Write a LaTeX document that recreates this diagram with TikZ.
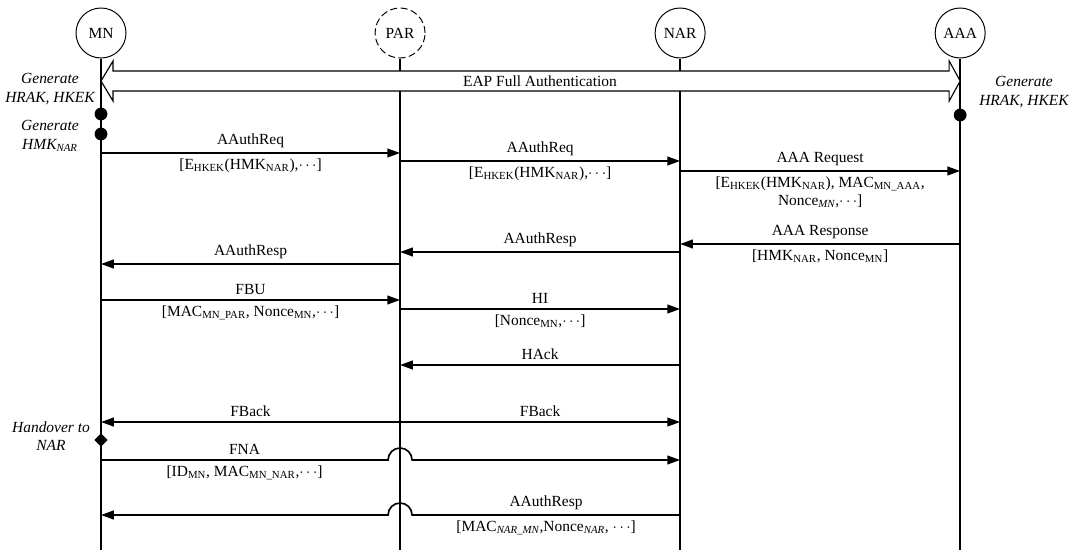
\documentclass[tikz,border=0pt]{standalone}
\usepackage{fontspec}
\setmainfont{Liberation Serif}
\usetikzlibrary{arrows.meta,positioning,calc,shapes.geometric}

\begin{document}
\begin{tikzpicture}[x=0.025cm,y=-0.025cm,>={Triangle[length=0.32cm,width=0.22cm]},
	font=\fontsize{11}{13}\selectfont]
	\tikzstyle{entity}=[circle,draw,line width=0.7pt,minimum size=1.25cm,inner sep=0pt]
	\tikzstyle{lifeline}=[line width=1.1pt]
	\tikzstyle{msg}=[->,line width=1.2pt]
	\tikzstyle{dot}=[circle,fill,inner sep=0pt,minimum size=0.32cm]
	\tikzstyle{note}=[align=center,font=\fontsize{11}{13}\selectfont\itshape]
	
	\useasboundingbox (0,0) rectangle (1078,553);
	
	\node[entity] (mn) at (101,33) {MN};
	\node[entity,dash pattern=on 5pt off 2.5pt] (par) [right=6.2cm of mn] {PAR};
	\node[entity] (nar) [right=5.725cm of par] {NAR};
	\node[entity] (aaa) [right=5.725cm of nar] {AAA};
	
	\coordinate (end) at (0,550);
	\foreach \n in {mn,par,nar,aaa}
		\draw[lifeline] (\n) -- (\n |- end);
	
	% EAP full authentication
	\coordinate (eapL) at (mn |- 0,81);
	\coordinate (eapR) at (aaa |- 0,81);
	\draw[line width=0.8pt,fill=white] (eapL) -- ++(12,-20) -- ++(0,10)
		-- ($(eapR)+(-11,-10)$) -- ++(0,-10) -- (eapR) -- ++(-11,20) -- ++(0,-10)
		-- ($(eapL)+(12,10)$) -- ++(0,10) -- cycle;
	\node (eap) at (540,81) {EAP Full Authentication};
	
	\node[dot] (d1) at (mn |- 0,114) {};
	\node[dot] (d2) at (mn |- 0,134) {};
	\node[dot] (d3) at (aaa |- 0,115) {};
	\node[note] (g1) at (50,89) {Generate\\HRAK, HKEK};
	\node[note] (g2) at (50,136) {Generate\\HMK\textsubscript{NAR}};
	\node[note] (g3) at (1024,92) {Generate\\HRAK, HKEK};
	
	\path[msg]
	(mn |- 0,153) edge node[above] {AAuthReq}
		node[below] {[E\textsubscript{HKEK}(HMK\textsubscript{NAR}),$\cdots$]} (par |- 0,153)
	(par |- 0,161) edge node[above] {AAuthReq}
		node[below] {[E\textsubscript{HKEK}(HMK\textsubscript{NAR}),$\cdots$]} (nar |- 0,161)
	(nar |- 0,171) edge node[above] {AAA Request}
		node[below,align=center] {[E\textsubscript{HKEK}(HMK\textsubscript{NAR}), MAC\textsubscript{MN\_AAA},\\Nonce\textsubscript{\itshape MN},$\cdots$]} (aaa |- 0,171)
	(aaa |- 0,244) edge node[above] {AAA Response}
		node[below] {[HMK\textsubscript{NAR}, Nonce\textsubscript{MN}]} (nar |- 0,244)
	(nar |- 0,252) edge node[above] {AAuthResp} (par |- 0,252)
	(par |- 0,264) edge node[above] {AAuthResp} (mn |- 0,264)
	(mn |- 0,300) edge node[above] {FBU}
		node[below] {[MAC\textsubscript{MN\_PAR}, Nonce\textsubscript{MN},$\cdots$]} (par |- 0,300)
	(par |- 0,309) edge node[above] {HI}
		node[below] {[Nonce\textsubscript{MN},$\cdots$]} (nar |- 0,309)
	(nar |- 0,365) edge node[above] {HAck} (par |- 0,365)
	(par |- 0,422) edge node[above] {FBack} (mn |- 0,422)
	(par |- 0,422) edge node[above] {FBack} (nar |- 0,422)
	;
	
	\node[diamond,fill,inner sep=0pt,minimum size=0.34cm] (ho) at (mn |- 0,440) {};
	\node[note] (hotext) at (51,436) {Handover to\\NAR};
	
	% messages jumping over the PAR lifeline
	\draw[msg] (mn |- 0,460) -- node[above] {FNA}
		node[below] {[ID\textsubscript{MN}, MAC\textsubscript{MN\_NAR},$\cdots$]} ($(par |- 0,460)+(-12,0)$)
		arc[start angle=180,end angle=0,radius=0.3cm] -- (nar |- 0,460);
	\draw[msg] (nar |- 0,515) -- node[above] {AAuthResp}
		node[below] {[MAC\textsubscript{\itshape NAR\_MN},Nonce\textsubscript{\itshape NAR}, $\cdots$]} ($(par |- 0,515)+(12,0)$)
		arc[start angle=0,end angle=180,radius=0.3cm] -- (mn |- 0,515);
\end{tikzpicture}
\end{document}
